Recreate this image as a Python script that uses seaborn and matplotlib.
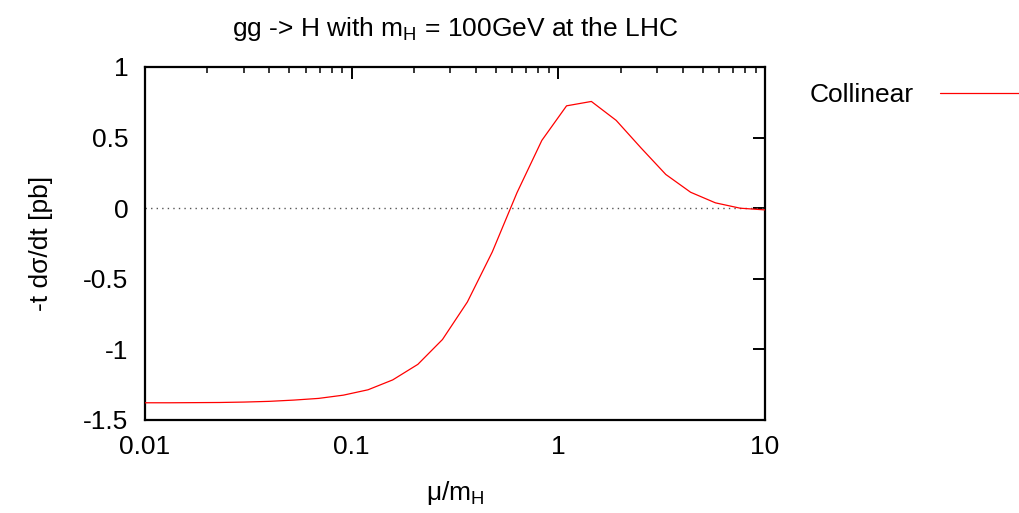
import matplotlib
matplotlib.use("Agg")
import matplotlib.pyplot as plt
import seaborn as sns
import pandas as pd
import numpy as np
from matplotlib.ticker import LogLocator, FixedLocator, NullFormatter

# ---- data ----
mu_over_mH = [0.01, 0.0132, 0.0174, 0.0229, 0.0302, 0.0398, 0.0525, 0.0692,
              0.0912, 0.120, 0.158, 0.209, 0.275, 0.363, 0.479, 0.631,
              0.832, 1.096, 1.445, 1.905, 2.512, 3.311, 4.365, 5.754, 7.586, 10.0]
collinear = [-1.378, -1.378, -1.377, -1.376, -1.373, -1.368, -1.359, -1.347,
             -1.324, -1.286, -1.216, -1.106, -0.930, -0.664, -0.31, 0.11,
             0.48, 0.725, 0.756, 0.622, 0.427, 0.239, 0.113, 0.038, 0.0, -0.012]
series_name = "Collinear"
x_ticks = [0.01, 0.1, 1, 10]
x_tick_labels = ["0.01", "0.1", "1", "10"]
y_ticks = [-1.5, -1, -0.5, 0, 0.5, 1]
y_tick_labels = ["-1.5", "-1", "-0.5", "0", "0.5", "1"]

sns.set_theme(style="white")
plt.rcParams['font.family'] = ['Liberation Sans', 'DejaVu Sans']
plt.rcParams['mathtext.fontset'] = 'custom'
plt.rcParams['mathtext.rm'] = 'Liberation Sans'
plt.rcParams['mathtext.it'] = 'Liberation Sans'
plt.rcParams['text.color'] = 'black'
plt.rcParams['axes.labelcolor'] = 'black'

df = pd.DataFrame({"x": mu_over_mH, "y": collinear, "series": series_name})

W, H = 1019, 513
fig = plt.figure(figsize=(W / 100, H / 100), dpi=100)
ax = fig.add_axes([145 / W, 1 - 420 / H, (765 - 145) / W, (420 - 67) / H])

ax.axhline(0, color="#555555", linestyle=(0, (1, 3)), lw=1.0, zorder=1)
sns.lineplot(data=df, x="x", y="y", hue="series", palette=["#ff0000"],
             lw=0.9, ax=ax, legend=False, zorder=3)

ax.set_xscale("log")
ax.set_xlim(0.01, 10)
ax.set_ylim(-1.5, 1)
ax.xaxis.set_major_locator(FixedLocator(x_ticks))
ax.set_xticklabels(x_tick_labels)
ax.xaxis.set_minor_locator(LogLocator(base=10, subs=np.arange(2, 10)))
ax.xaxis.set_minor_formatter(NullFormatter())
ax.set_yticks(y_ticks)
ax.set_yticklabels(y_tick_labels)

fs = 19
ax.tick_params(axis="both", which="major", direction="in", length=8.6, width=1.4,
               top=True, right=True, labelsize=fs, colors="black")
ax.tick_params(axis="both", which="minor", direction="in", length=4.3, width=1.3,
               top=True, right=True)
ax.tick_params(axis="y", which="major", pad=12)
ax.tick_params(axis="x", which="major", pad=11)
for s in ax.spines.values():
    s.set_visible(True)
    s.set_color("black")
    s.set_linewidth(1.6)

ax.set_xlabel("μ/m$_\\mathrm{H}$", fontsize=fs, labelpad=14)
ax.set_ylabel("-t dσ/dt [pb]", fontsize=fs, labelpad=22)
ax.set_title("gg -> H with m$_\\mathrm{H}$ = 100GeV at the LHC", fontsize=fs, pad=22)

handle = plt.Line2D([], [], color="#ff0000", lw=0.9)
fig.legend([handle], [series_name], loc="center right",
           bbox_to_anchor=(1.0, 1 - 95 / H), markerfirst=False, frameon=False,
           fontsize=fs, handlelength=3.0, handletextpad=1.0,
           borderaxespad=0, borderpad=0)

fig.savefig("out.png", dpi=100)
